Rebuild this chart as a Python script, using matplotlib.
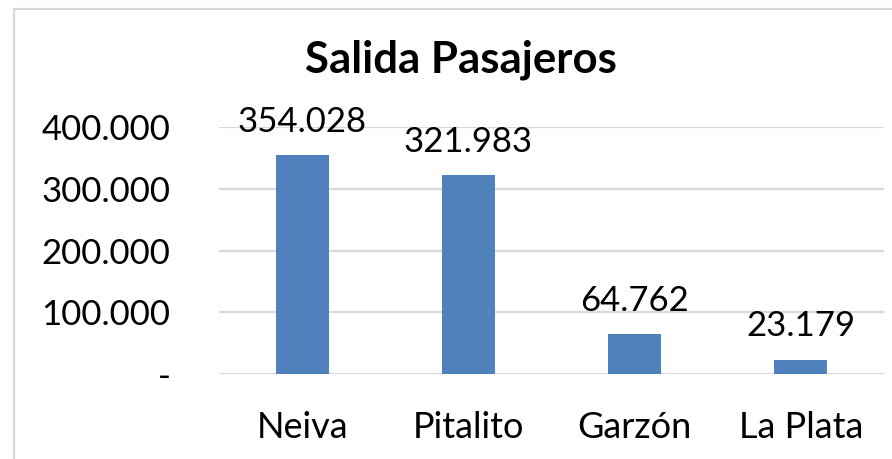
import matplotlib.pyplot as plt
from matplotlib.patches import Rectangle
from matplotlib.ticker import FuncFormatter

# data
ciudades = ['Neiva', 'Pitalito', 'Garzón', 'La Plata']
pasajeros = [354028, 321983, 64762, 23179]
y_ticks = [0, 100000, 200000, 300000, 400000]

plt.rcParams['font.family'] = ['Lato', 'DejaVu Sans']


def miles(v, pos=None):
    if v == 0:
        return '-'
    return f'{int(v):,}'.replace(',', '.')


fig = plt.figure(figsize=(8.92, 4.59), dpi=100)
ax = fig.add_axes([219 / 892, 85 / 459, 665 / 892, 247 / 459])

# chart border (goes off the image right and bottom)
fig.patches.append(Rectangle((14 / 892, -0.1), 1.2, (459 - 9) / 459 + 0.1,
                             transform=fig.transFigure, fill=False,
                             edgecolor='#D9D9D9', linewidth=1.6))

bars = ax.bar(ciudades, pasajeros, width=0.32, color='#4F81BD', zorder=3)
for b, v in zip(bars, pasajeros):
    ax.text(b.get_x() + b.get_width() / 2, v + 28000, miles(v),
            ha='center', va='bottom', fontsize=25, color='#000000', zorder=4)

ax.set_ylim(0, 400000)
ax.set_xlim(-0.5, len(ciudades) - 0.5)
ax.set_yticks(y_ticks)
ax.yaxis.set_major_formatter(FuncFormatter(miles))
ax.grid(axis='y', color='#D9D9D9', linewidth=1.6, zorder=0)
ax.set_axisbelow(True)
for s in ax.spines.values():
    s.set_visible(False)
ax.tick_params(axis='y', length=0, pad=35, labelsize=25)
ax.tick_params(axis='x', length=0, pad=27, labelsize=26)

fig.text(461 / 892, 1 - 60 / 459, 'Salida Pasajeros', ha='center', va='center',
         fontsize=31.5, fontweight='bold')

fig.savefig('out.png', dpi=100)
